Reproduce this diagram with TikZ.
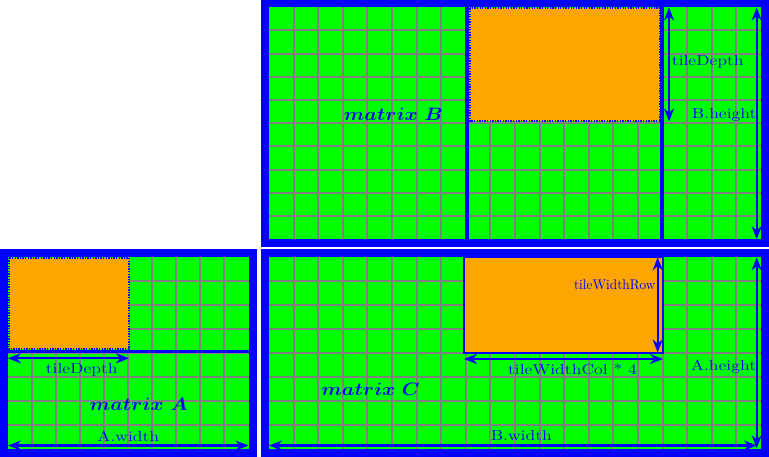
\documentclass[tikz,border=0pt]{standalone}
\usetikzlibrary{arrows.meta}
\definecolor{fg}{RGB}{0,0,255}
\definecolor{gr}{RGB}{0,255,0}
\definecolor{org}{RGB}{255,165,0}
\newcommand\mylbl[1]{\scalebox{1.75}[1.45]{#1}}
\newcommand\mymat[1]{\scalebox{2.0}[1.8]{\boldmath$#1$}}
\begin{document}
\begin{tikzpicture}[x=1pt,y=-1pt,
  mframe/.style={fill=fg},
  mfield/.style={fill=gr},
  mgrid/.style={gray, line width=2pt},
  mband/.style={fg, line width=3.5pt},
  mtile/.style={fill=org, draw=fg, line width=2.2pt, dash pattern=on 1.3pt off 1.3pt},
  ctile/.style={fill=org, draw=fg, line width=1.4pt},
  dimarrow/.style={fg, line width=2.3pt, {Stealth[length=13pt,width=10pt]}-{Stealth[length=13pt,width=10pt]}},
  mlabel/.style={text=fg, inner sep=0pt},
]
\useasboundingbox (0,0) rectangle (769,457);
% frames
\fill[mframe] (261,0) rectangle (769,247.3);
\fill[mframe] (261,248.8) rectangle (769,457);
\fill[mframe] (0,248.8) rectangle (257,457);
% fields
\fill[mfield] (269,7.3) rectangle (761,239.3);
\fill[mfield] (269,257.3) rectangle (761,448.5);
\fill[mfield] (8,257.3) rectangle (248.5,448.5);
% grids
\foreach \i in {1,...,19} {
  \draw[mgrid] ({269+24.6*\i},7.3) -- ({269+24.6*\i},239.3);
  \draw[mgrid] ({269+24.6*\i},257.3) -- ({269+24.6*\i},448.5);
}
\foreach \j in {1,...,9}
  \draw[mgrid] (269,{7.3+23.2*\j}) -- (761,{7.3+23.2*\j});
\foreach \j in {1,...,7} {
  \draw[mgrid] (269,{257.3+23.9*\j}) -- (761,{257.3+23.9*\j});
  \draw[mgrid] (8,{257.3+23.9*\j}) -- (248.5,{257.3+23.9*\j});
}
\foreach \i in {1,...,9}
  \draw[mgrid] ({8+24.05*\i},257.3) -- ({8+24.05*\i},448.5);
% bands
\draw[mband] (466.8,7.3) -- (466.8,239.3);
\draw[mband] (662.2,7.3) -- (662.2,239.3);
\draw[mband] (8,351.7) -- (248.5,351.7);
% tiles
\draw[mtile] (469.8,8.4) rectangle (660.2,121.2);
\draw[mtile] (8.5,257.8) rectangle (128.8,349.2);
\draw[ctile] (464,257.3) rectangle (662.8,352.8);
% arrow end points
\coordinate (btdT) at (669,7.5);
\coordinate (btdB) at (669,121.5);
\coordinate (bhT) at (756.7,7.5);
\coordinate (bhB) at (756.7,239.3);
\coordinate (atdL) at (8,358.3);
\coordinate (atdR) at (129,358.3);
\coordinate (awL) at (8,445.5);
\coordinate (awR) at (248.5,445.5);
\coordinate (bwL) at (269,445.5);
\coordinate (bwR) at (757,445.5);
\coordinate (twcL) at (464,359);
\coordinate (twcR) at (663,359);
\coordinate (twrT) at (657.7,257.3);
\coordinate (twrB) at (657.7,352.5);
\coordinate (ahT) at (756.7,257.3);
\coordinate (ahB) at (756.7,448.3);
% arrows
\draw[dimarrow] (btdT) -- (btdB);
\draw[dimarrow] (bhT) -- (bhB);
\draw[dimarrow] (atdL) -- (atdR);
\draw[dimarrow] (awL) -- (awR);
\draw[dimarrow] (bwL) -- (bwR);
\draw[dimarrow] (twcL) -- (twcR);
\draw[dimarrow] (twrT) -- (twrB);
\draw[dimarrow] (ahT) -- (ahB);
% labels
\node[mlabel] (matB) at (393.3,114.5) {\mymat{matrix\ B}};
\node[mlabel] (matA) at (138.7,404) {\mymat{matrix\ A}};
\node[mlabel] (matC) at (370.5,389.5) {\mymat{matrix\ C}};
\node[mlabel] (lbtd) at (707.8,62) {\mylbl{tileDepth}};
\node[mlabel] (lbh) at (724.2,115) {\mylbl{B.height}};
\node[mlabel] (latd) at (81.7,369.5) {\mylbl{tileDepth}};
\node[mlabel] (law) at (128.3,436) {\mylbl{A.width}};
\node[mlabel] (lbw) at (521.3,436) {\mylbl{B.width}};
\node[mlabel] (ltwc) at (572.5,369.5) {\mylbl{tileWidthCol * 4}};
\node[mlabel, anchor=east] (ltwr) at (655.7,284.3) {\scalebox{1.33}[1.4]{tileWidthRow}};
\node[mlabel] (lah) at (723.5,366.7) {\mylbl{A.height}};
\end{tikzpicture}
\end{document}
